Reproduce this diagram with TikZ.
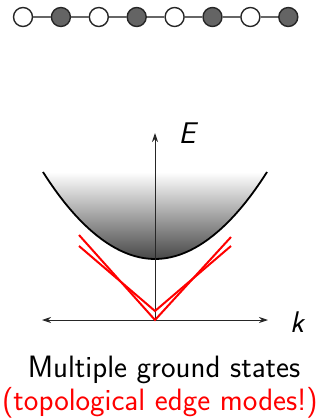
\documentclass[tikz,border=0pt]{standalone}
\usepackage{tikz}
\usetikzlibrary{calc, positioning, arrows.meta}
\usepackage{xcolor}
\definecolor{colEdge}{RGB}{255, 0, 0}
\definecolor{colSite}{RGB}{100, 100, 100}

\begin{document}
\begin{tikzpicture}[
  x=1bp, y=-1bp,
  >={Stealth[length=9bp, width=6bp]},
  site/.style={circle, draw=black!85, line width=1.4bp, minimum size=19bp,
               inner sep=0pt, fill=#1},
  bond/.style={draw=black!60, line width=1.2bp},
  axis/.style={draw=black!85, line width=0.9bp},
  axlabel/.style={font=\fontsize{30}{34}\selectfont\sffamily\itshape, inner sep=0pt},
  edgemode/.style={draw=colEdge, line width=2bp},
  caption/.style={font=\fontsize{31}{36}\selectfont\sffamily, inner sep=0pt,
                  anchor=base}
]
\useasboundingbox (0,0) rectangle (321,419);

% ---------- Chaîne de sites ----------
\foreach \i/\c in {1/white, 2/colSite, 3/white, 4/colSite,
                   5/white, 6/colSite, 7/white, 8/colSite}
  \node[site=\c] (s\i) at ({23+37.9*(\i-1)}, 17) {};
\foreach \i [evaluate=\i as \j using int(\i+1)] in {1,...,7}
  \draw[bond] (s\i) -- (s\j);

% ---------- Bande (dégradé) ----------
\shade[top color=white, bottom color=black!72]
  (43,172) parabola bend (155,259) (267,172) -- cycle;
\draw[line width=1.8bp] (43,172) parabola bend (155,259) (267,172);

% ---------- Axes ----------
\coordinate (orig) at (155,320);
\coordinate (eTop) at (155,133);
\coordinate (kL)   at (42,320);
\coordinate (kR)   at (268,320);
\draw[axis, ->] (orig) -- (eTop);
\draw[axis, <->] (kL) -- (kR);
\node[axlabel] (labE) at (187,133) {E};
\node[axlabel] (labk) at (297,322) {k};

% ---------- Modes de bord ----------
\coordinate (vIn) at (155,311);
\draw[edgemode] (79,235) -- (orig) -- (231,237);
\draw[edgemode] (79,246) -- (vIn) -- (231,246);

% ---------- Légende ----------
\node[caption] (cap1) at (164,377) {Multiple ground states};
\node[caption, colEdge] (cap2) at (160,410) {(topological edge modes!)};

\end{tikzpicture}
\end{document}
